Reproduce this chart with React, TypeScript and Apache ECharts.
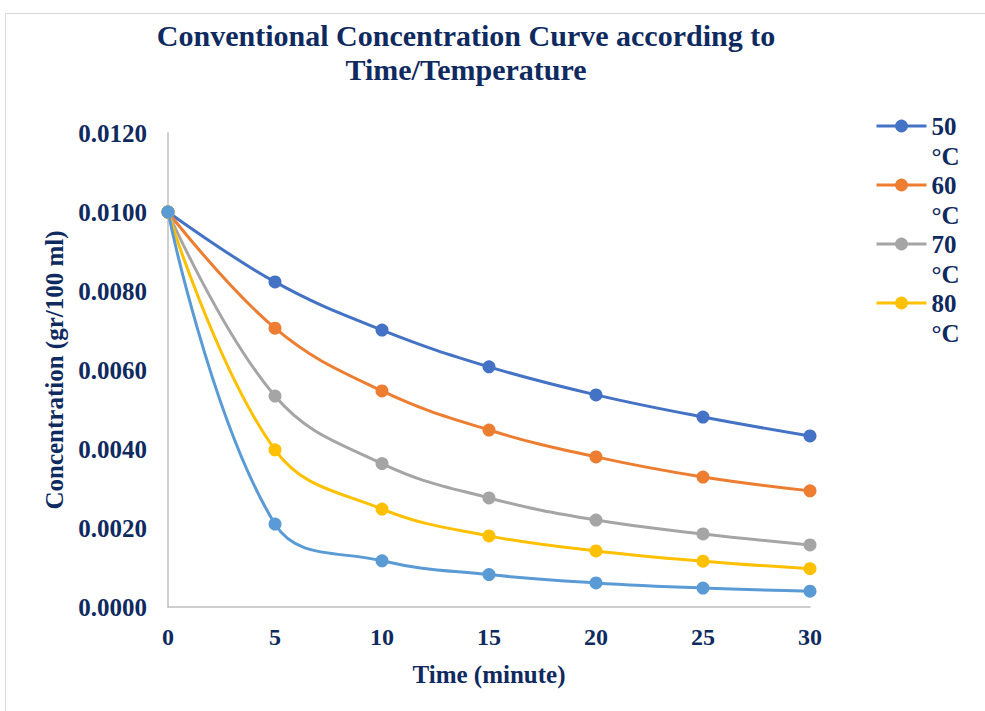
import React, { useEffect, useRef } from "react";
import * as echarts from "echarts";

const times = [0, 5, 10, 15, 20, 25, 30];
const seriesNames = ["50\n°C", "60\n°C", "70\n°C", "80\n°C", "90\n°C"];
const legendNames = ["50\n°C", "60\n°C", "70\n°C", "80\n°C"];
const c50 = [0.01, 0.00823, 0.00701, 0.00608, 0.00537, 0.00481, 0.00433];
const c60 = [0.01, 0.00706, 0.00547, 0.00448, 0.0038, 0.00329, 0.00294];
const c70 = [0.01, 0.00534, 0.00363, 0.00276, 0.0022, 0.00185, 0.00157];
const c80 = [0.01, 0.00398, 0.00248, 0.0018, 0.00142, 0.00116, 0.00097];
const c90 = [0.01, 0.0021, 0.00117, 0.00082, 0.00061, 0.00048, 0.0004];
const colors = ["#4472C4", "#ED7D31", "#A5A5A5", "#FFC000", "#5B9BD5"];

const navy = "#0f2a5f";
const font = "'Liberation Serif', 'Times New Roman', serif";

export default function App() {
  const ref = useRef<HTMLDivElement>(null);
  useEffect(() => {
    if (!ref.current) return;
    const chart = echarts.init(ref.current, null, { renderer: "svg" });
    const all = [c50, c60, c70, c80, c90];
    chart.setOption({
      animation: false,
      backgroundColor: "#ffffff",
      color: colors,
      title: {
        text: "Conventional Concentration Curve according to\nTime/Temperature",
        left: 461,
        top: 13,
        textAlign: "center",
        textStyle: {
          fontFamily: font,
          fontWeight: "bold",
          fontSize: 30,
          color: navy,
          lineHeight: 34,
        },
      },
      graphic: [
        {
          type: "rect",
          shape: { x: 5.5, y: 13.5, width: 1000, height: 720 },
          style: { fill: "none", stroke: "#d9d9d9", lineWidth: 1 },
          silent: true,
        },
      ],
      legend: {
        data: legendNames,
        orient: "vertical",
        left: 870,
        top: 76,
        itemWidth: 50,
        itemHeight: 16,
        itemGap: -31,
        lineStyle: { width: 3 },
        formatter: (name: string) => "\n" + name,
        textStyle: {
          fontFamily: font,
          fontWeight: "bold",
          fontSize: 25,
          color: navy,
          lineHeight: 30,
        },
      },
      grid: { left: 168, right: 175, top: 133, bottom: 104 },
      xAxis: {
        type: "value",
        min: 0,
        max: 30,
        interval: 5,
        name: "Time (minute)",
        nameLocation: "middle",
        nameGap: 55,
        nameTextStyle: { fontFamily: font, fontWeight: "bold", fontSize: 25, color: navy },
        axisLine: { show: true, lineStyle: { color: "#bfbfbf", width: 1.5 } },
        axisTick: { show: false },
        splitLine: { show: false },
        axisLabel: { fontFamily: font, fontWeight: "bold", fontSize: 24, color: navy, margin: 18 },
      },
      yAxis: {
        type: "value",
        min: 0,
        max: 0.012,
        interval: 0.002,
        name: "Concentration (gr/100 ml)",
        nameLocation: "middle",
        nameGap: 98,
        nameTextStyle: { fontFamily: font, fontWeight: "bold", fontSize: 25, color: navy },
        axisLine: { show: true, lineStyle: { color: "#bfbfbf", width: 1.5 } },
        axisTick: { show: false },
        splitLine: { show: false },
        axisLabel: {
          fontFamily: font,
          fontWeight: "bold",
          fontSize: 25,
          color: navy,
          margin: 21,
          formatter: (v: number) => v.toFixed(4),
        },
      },
      series: all.map((arr, i) => ({
        name: seriesNames[i],
        type: "line",
        smooth: 0.4,
        symbol: "circle",
        symbolSize: 13,
        lineStyle: { width: 3, color: colors[i] },
        itemStyle: { color: colors[i] },
        data: times.map((t, j) => [t, arr[j]]),
      })),
    });
    return () => chart.dispose();
  }, []);
  return <div ref={ref} style={{ position: "fixed", left: 0, top: 0, width: 985, height: 711 }} />;
}
